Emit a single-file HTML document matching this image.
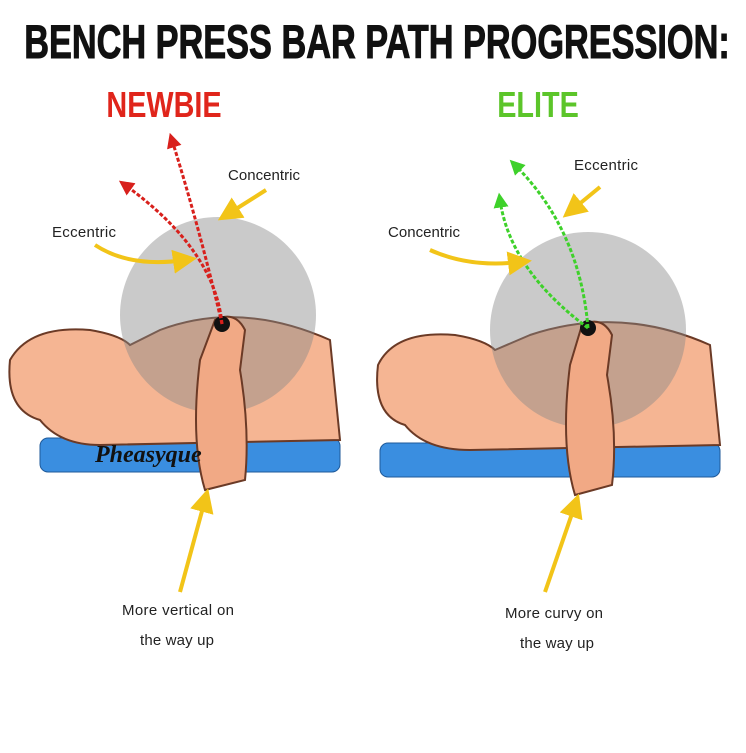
<!DOCTYPE html>
<html><head><meta charset="utf-8"><style>
body{margin:0;width:746px;height:748px;background:#fff;overflow:hidden}
</style></head><body>
<svg width="746" height="748" viewBox="0 0 746 748" xmlns="http://www.w3.org/2000/svg" font-family="Liberation Sans, sans-serif">
<defs>
<marker id="ya" markerWidth="6" markerHeight="6" refX="3" refY="3" orient="auto"><path d="M0,0L6,3L0,6z" fill="#f2c418"/></marker>
<marker id="ra" markerWidth="5" markerHeight="5" refX="2.5" refY="2.5" orient="auto"><path d="M0,0L5,2.5L0,5z" fill="#d8201c"/></marker>
<marker id="ga" markerWidth="5" markerHeight="5" refX="2.5" refY="2.5" orient="auto"><path d="M0,0L5,2.5L0,5z" fill="#3ed12a"/></marker>
</defs>
<text x="377" y="58" text-anchor="middle" font-size="47" font-weight="bold" fill="#111" stroke="#111" stroke-width="1" transform="translate(377 0) scale(0.73 1) translate(-377 0)">BENCH PRESS BAR PATH PROGRESSION:</text>
<text x="164" y="117" text-anchor="middle" font-size="36" font-weight="bold" fill="#e0251b" transform="translate(164 0) scale(0.8 1) translate(-164 0)">NEWBIE</text>
<text x="538" y="117" text-anchor="middle" font-size="36" font-weight="bold" fill="#5cc52a" transform="translate(538 0) scale(0.8 1) translate(-538 0)">ELITE</text>

<!-- LEFT -->
<rect x="40" y="438" width="300" height="34" rx="8" fill="#3a8ee0" stroke="#1f5a9a"/>
<path d="M10,360 Q30,325 90,330 Q120,335 130,345 L160,330 Q240,300 330,340 L340,440 L100,445 Q60,445 40,420 Q5,410 10,360z" fill="#f5b593" stroke="#6b3a26" stroke-width="2"/>
<circle cx="218" cy="315" r="98" fill="#8a8a8a" opacity="0.45"/>
<path d="M205,490 Q190,440 200,360 L215,320 Q235,310 245,330 L240,370 Q250,430 245,480z" fill="#f1a985" stroke="#6b3a26" stroke-width="2"/>
<circle cx="222" cy="324" r="8" fill="#111"/>
<path d="M222,324 Q200,230 172,140" stroke="#d8201c" stroke-width="3" fill="none" stroke-dasharray="4 2" marker-end="url(#ra)"/>
<path d="M222,324 Q215,250 125,185" stroke="#d8201c" stroke-width="3" fill="none" stroke-dasharray="4 2" marker-end="url(#ra)"/>
<g transform="translate(0 0)">
<text x="228" y="180" font-size="15" fill="#222" textLength="72">Concentric</text>
<text x="52" y="237" font-size="15" fill="#222" textLength="64">Eccentric</text>
</g>
<path d="M266,190 L228,214" stroke="#f2c418" stroke-width="4" marker-end="url(#ya)"/>
<path d="M95,245 Q130,268 185,260" stroke="#f2c418" stroke-width="4" fill="none" marker-end="url(#ya)"/>
<path d="M180,592 L205,500" stroke="#f2c418" stroke-width="4" marker-end="url(#ya)"/>
<text x="122" y="615" font-size="15" fill="#222" textLength="112">More vertical on</text>
<text x="140" y="645" font-size="15" fill="#222" textLength="74">the way up</text>
<text x="95" y="462" font-size="24" font-style="italic" font-weight="bold" fill="#111" font-family="Liberation Serif, serif">Pheasyque</text>

<!-- RIGHT -->
<rect x="380" y="443" width="340" height="34" rx="8" fill="#3a8ee0" stroke="#1f5a9a"/>
<path d="M378,365 Q395,330 455,335 Q485,340 495,350 L530,335 Q620,305 710,345 L720,445 L470,450 Q425,450 405,425 Q372,415 378,365z" fill="#f5b593" stroke="#6b3a26" stroke-width="2"/>
<circle cx="588" cy="330" r="98" fill="#8a8a8a" opacity="0.45"/>
<path d="M575,495 Q560,445 570,365 L582,325 Q602,315 612,335 L607,375 Q618,435 612,485z" fill="#f1a985" stroke="#6b3a26" stroke-width="2"/>
<circle cx="588" cy="328" r="8" fill="#111"/>
<path d="M588,328 Q580,230 515,165" stroke="#3ed12a" stroke-width="3" fill="none" stroke-dasharray="4 2" marker-end="url(#ga)"/>
<path d="M588,328 Q510,270 500,200" stroke="#3ed12a" stroke-width="3" fill="none" stroke-dasharray="4 2" marker-end="url(#ga)"/>
<text x="574" y="170" font-size="15" fill="#222" textLength="64">Eccentric</text>
<text x="388" y="237" font-size="15" fill="#222" textLength="72">Concentric</text>
<path d="M600,187 L572,210" stroke="#f2c418" stroke-width="4" marker-end="url(#ya)"/>
<path d="M430,250 Q470,268 520,262" stroke="#f2c418" stroke-width="4" fill="none" marker-end="url(#ya)"/>
<path d="M545,592 L575,505" stroke="#f2c418" stroke-width="4" marker-end="url(#ya)"/>
<text x="505" y="618" font-size="15" fill="#222" textLength="98">More curvy on</text>
<text x="520" y="648" font-size="15" fill="#222" textLength="74">the way up</text>
</svg>
</body></html>
